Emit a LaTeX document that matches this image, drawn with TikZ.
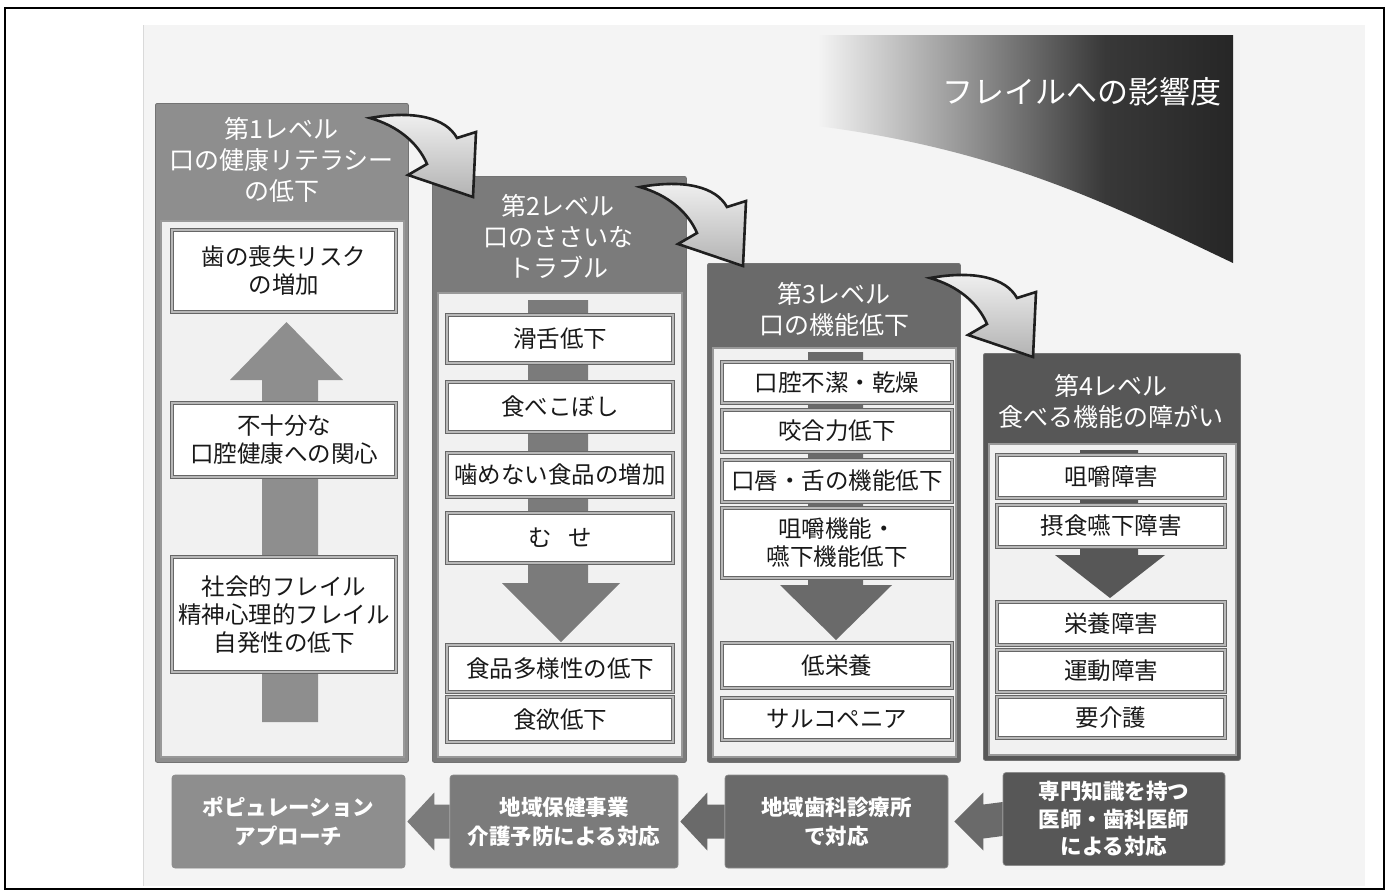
\documentclass[tikz,border=0pt]{standalone}
\usepackage{fontspec}
\setmainfont{Noto Sans CJK JP}
\usetikzlibrary{calc}
\definecolor{cA}{HTML}{8E8E8E}
\definecolor{cB}{HTML}{7B7B7B}
\definecolor{cC}{HTML}{6A6A6A}
\definecolor{cD}{HTML}{575757}
\definecolor{pagebg}{HTML}{F4F4F4}
\definecolor{panelbg}{HTML}{F1F1F1}
\pgfdeclarehorizontalshading{frailshade}{100bp}{color(0bp)=(pagebg); color(25bp)=(pagebg); color(36bp)=(pagebg); color(50bp)=(black!42); color(63bp)=(black!78); color(75bp)=(black!85); color(100bp)=(black!85)}
\tikzset{
  colbox/.style={draw=black!55, line width=0.8pt, rounded corners=2pt, anchor=north west, inner sep=0pt},
  panel/.style={fill=panelbg, draw=black!40, line width=1.6pt, anchor=north west, inner sep=0pt},
  ttl/.style={text=white, align=center, inner sep=0pt, font=\fontsize{25}{31}\selectfont},
  itembox/.style={draw=black!60, double=black!28, double distance=2.2pt, line width=0.7pt, fill=white,
    inner sep=0pt, align=center, text=black!90, font=\fontsize{23.5}{28}\selectfont},
  btm/.style={rounded corners=3pt, draw=black!45, line width=0.6pt, text=white, align=center,
    inner sep=0pt, minimum height=93, font=\bfseries\fontsize{21.5}{29}\selectfont},
  curvarrow/.style={draw=black!88, line width=2.6pt, line join=miter, top color=black!5, bottom color=black!30},
}
\begin{document}
\begin{tikzpicture}[x=1pt,y=-1pt]
\useasboundingbox (0,0) rectangle (1388,892);
\fill[white] (0,0) rectangle (1388,892);
\fill[pagebg] (143,25) rectangle (1365,886);
\draw[black!15, line width=0.6pt] (143,25) -- (143,886);
% gradient heading area
\shade[shading=frailshade] (700,35) -- (1233,35) -- (1233,263) .. controls (1090,195) and (960,128) .. (700,116) -- cycle;
\node[anchor=east, text=white, inner sep=0pt, font=\fontsize{31}{36}\selectfont] (head) at (1222,92) {フレイルへの影響度};

% column outer boxes
\node[colbox, fill=cA, minimum width=253, minimum height=659] (L1) at (155,103) {};
\node[colbox, fill=cB, minimum width=254, minimum height=586] (L2) at (432,176) {};
\node[colbox, fill=cC, minimum width=253, minimum height=499] (L3) at (707,263) {};
\node[colbox, fill=cD, minimum width=257, minimum height=407] (L4) at (983,353) {};
% panels
\node[panel, minimum width=243, minimum height=536] (P1) at (160,220) {};
\node[panel, minimum width=244, minimum height=464] (P2) at (437,292) {};
\node[panel, minimum width=243, minimum height=409] (P3) at (712,347) {};
\node[panel, minimum width=247, minimum height=311] (P4) at (988,443) {};
% titles
\node[ttl] (T1) at (281.5,160) {第1レベル\\口の健康リテラシー\\の低下};
\node[ttl] (T2) at (558,236) {第2レベル\\口のささいな\\トラブル};
\node[ttl] (T3) at (834,309) {第3レベル\\口の機能低下};
\node[ttl] (T4) at (1111,401) {第4レベル\\食べる機能の障がい};

% column block arrows
\fill[cA] (262,722) -- (318,722) -- (318,380) -- (343,380) -- (286.5,322) -- (230,380) -- (262,380) -- cycle;
\fill[cB] (528,300) -- (588,300) -- (588,583) -- (620,583) -- (561,642) -- (502,583) -- (528,583) -- cycle;
\fill[cC] (808,352) -- (863,352) -- (863,585) -- (892,585) -- (836,640) -- (780,585) -- (808,585) -- cycle;
\fill[cD] (1080,450) -- (1138,450) -- (1138,555) -- (1165,555) -- (1110,598) -- (1055,555) -- (1080,555) -- cycle;

% column 1 items
\node[itembox, minimum width=224, minimum height=82] (a1) at (284,271) {歯の喪失リスク\\の増加};
\node[itembox, minimum width=224, minimum height=74] (a2) at (284,440) {不十分な\\口腔健康への関心};
\node[itembox, minimum width=224, minimum height=115] (a3) at (284,614.5) {社会的フレイル\\精神心理的フレイル\\自発性の低下};
% column 2 items
\node[itembox, minimum width=226, minimum height=48] (b1) at (560,339) {滑舌低下};
\node[itembox, minimum width=226, minimum height=50] (b2) at (560,407) {食べこぼし};
\node[itembox, minimum width=226, minimum height=44] (b3) at (560,475) {噛めない食品の増加};
\node[itembox, minimum width=226, minimum height=50] (b4) at (560,538) {む\hspace{0.7em}せ};
\node[itembox, minimum width=226, minimum height=47] (b5) at (560,668.5) {食品多様性の低下};
\node[itembox, minimum width=226, minimum height=45] (b6) at (560,719.5) {食欲低下};
% column 3 items
\node[itembox, minimum width=230, minimum height=41] (c1) at (837,382.5) {口腔不潔・乾燥};
\node[itembox, minimum width=230, minimum height=42] (c2) at (837,431) {咬合力低下};
\node[itembox, minimum width=230, minimum height=42] (c3) at (837,481) {口唇・舌の機能低下};
\node[itembox, minimum width=230, minimum height=70] (c4) at (837,543) {咀嚼機能・\\嚥下機能低下};
\node[itembox, minimum width=230, minimum height=45] (c5) at (837,665.5) {低栄養};
\node[itembox, minimum width=230, minimum height=42] (c6) at (837,719) {サルコペニア};
% column 4 items
\node[itembox, minimum width=228, minimum height=43] (d1) at (1111,476.5) {咀嚼障害};
\node[itembox, minimum width=228, minimum height=42] (d2) at (1111,526) {摂食嚥下障害};
\node[itembox, minimum width=228, minimum height=43] (d3) at (1111,623.5) {栄養障害};
\node[itembox, minimum width=228, minimum height=42] (d4) at (1111,671) {運動障害};
\node[itembox, minimum width=228, minimum height=41] (d5) at (1111,717.5) {要介護};

% curved arrows between levels
\foreach \tx/\ty in {370/118, 640/187, 930/278}{
  \begin{scope}[shift={(\tx,\ty)}]
    \path[curvarrow] (0,0) .. controls (45,-8) and (76,0) .. (87,20) -- (106,14) -- (103,79) -- (38,57) -- (57,46) .. controls (48,25) and (28,8) .. (0,0) -- cycle;
  \end{scope}
}

% bottom boxes
\node[btm, fill=cA, minimum width=233] (p1) at (288.5,821.5) {ポピュレーション\\アプローチ};
\node[btm, fill=cB, minimum width=228] (p2) at (564,821.5) {地域保健事業\\介護予防による対応};
\node[btm, fill=cC, minimum width=223] (p3) at (836.5,821.5) {地域歯科診療所\\で対応};
\node[btm, fill=cD, minimum width=222, font=\bfseries\fontsize{21.5}{27.5}\selectfont] (p4) at (1114,819) {専門知識を持つ\\医師・歯科医師\\による対応};

% bottom arrows (from right box to left box)
\fill[cB] ($(p1.east)+(2,0)$) -- ++(27,-29) -- ++(0,12) -- ($(p2.west)+(0,-17)$) -- ($(p2.west)+(0,17)$) -- ($(p1.east)+(29,17)$) -- ++(0,12) -- cycle;
\fill[cC] ($(p2.east)+(2,0)$) -- ++(27,-29) -- ++(0,12) -- ($(p3.west)+(0,-17)$) -- ($(p3.west)+(0,17)$) -- ($(p2.east)+(29,17)$) -- ++(0,12) -- cycle;
\fill[cC] ($(p3.east)+(6,0)$) -- ++(29,-29) -- ++(0,12) -- ($(p4.west)+(0,-17)$) -- ($(p4.west)+(0,17)$) -- ($(p3.east)+(35,17)$) -- ++(0,12) -- cycle;

% outer frame
\draw[black, line width=1.5pt] (5,8) rectangle (1384,889);
\end{tikzpicture}
\end{document}
